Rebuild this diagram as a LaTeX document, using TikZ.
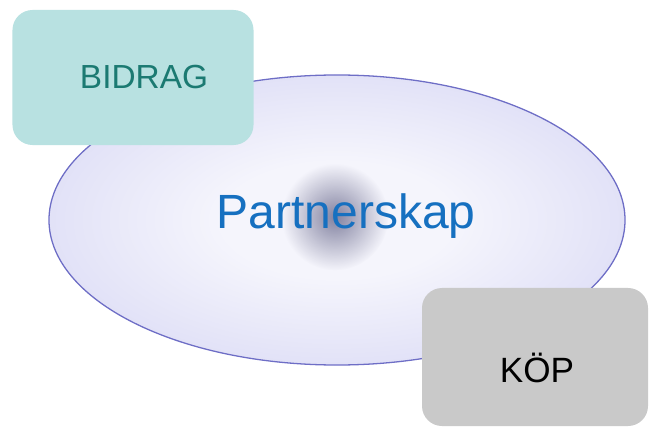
\documentclass[tikz,border=0pt]{standalone}
\usepackage{fontspec}
\setmainfont{Liberation Sans}
\usetikzlibrary{shapes.geometric,fadings}

\definecolor{ringcore}{HTML}{F5F5FC}
\definecolor{ringfill}{HTML}{CCCCF2}
\definecolor{ringline}{HTML}{6E6EC6}
\definecolor{blobgrey}{HTML}{66668A}
\definecolor{tealfill}{HTML}{B8E1E1}
\definecolor{tealtext}{HTML}{1B7A72}
\definecolor{greyfill}{HTML}{C9C9C9}
\definecolor{partblue}{HTML}{1670C0}

\pgfdeclareradialshading{ringshade}{\pgfpoint{0bp}{0bp}}{color(0bp)=(ringcore); color(10bp)=(ringcore); color(42bp)=(ringfill); color(50bp)=(ringfill)}
\tikzfading[name=blobfade, inner color=transparent!20, outer color=transparent!100]

\begin{document}
\begin{tikzpicture}[
  x=0.03cm, y=-0.03cm,
  ring/.style={ellipse, draw=ringline, line width=1.1pt, shading=ringshade, inner sep=0pt},
  card/.style={rectangle, rounded corners=0.6cm, inner sep=0pt},
  label/.style={anchor=base, inner sep=0pt}
]
\useasboundingbox (0,0) rectangle (649,428);

% Partnerskap
\node[ring, minimum width=17.28cm, minimum height=8.7cm] (Ring) at (337,220) {};
\node[circle, fill=blobgrey, path fading=blobfade, minimum size=3.2cm, inner sep=0pt] (Blob) at (335,217) {};
\node[label, text=partblue, font=\fontsize{41}{45}\selectfont] (Partner) at (346,229) {Partnerskap};

% BIDRAG
\node[card, fill=tealfill, minimum width=7.23cm, minimum height=4.05cm] (Bidrag) at (133,77.5) {};
\node[label, text=tealtext, font=\fontsize{28.5}{32}\selectfont] (BidragText) at (144,89) {BIDRAG};

% KÖP
\node[card, fill=greyfill, minimum width=6.78cm, minimum height=4.14cm] (Kop) at (535,357) {};
\node[label, text=black, font=\fontsize{30}{34}\selectfont] (KopText) at (537,382) {KÖP};

\end{tikzpicture}
\end{document}
